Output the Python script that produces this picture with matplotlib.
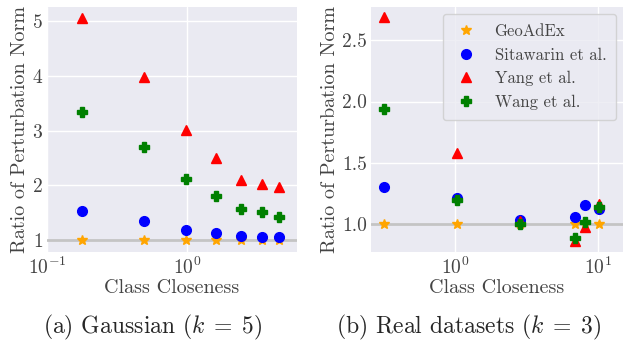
import numpy as np
import matplotlib
matplotlib.use("Agg")
from matplotlib import pyplot as plt

plt.style.use("seaborn-v0_8-darkgrid")
plt.rcParams["font.family"] = "serif"
plt.rcParams["font.serif"] = ["cmr10", "DejaVu Serif"]
plt.rcParams["mathtext.fontset"] = "cm"
plt.rcParams["axes.formatter.use_mathtext"] = True
plt.rcParams["axes.unicode_minus"] = False

methods = ["GeoAdEx", "Sitawarin et al.", "Yang et al.", "Wang et al."]
colors = ["orange", "blue", "red", "green"]
markers = ["*", "o", "^", "P"]

# (a) Gaussian, k = 5
gauss_x = [0.179, 0.495, 0.98, 1.62, 2.44, 3.42, 4.57]
gauss_geo = [1.0, 1.0, 1.0, 1.0, 1.0, 1.0, 1.0]
gauss_sita = [1.54, 1.36, 1.19, 1.14, 1.085, 1.055, 1.055]
gauss_yang = [5.05, 3.98, 3.01, 2.50, 2.10, 2.03, 1.98]
gauss_wang = [3.34, 2.70, 2.12, 1.80, 1.57, 1.52, 1.42]

# (b) Real datasets, k = 3
real_x = [0.32, 1.04, 2.84, 6.9, 8.15, 10.2]
real_geo = [1.0, 1.0, 1.0, 1.0, 1.0, 1.0]
real_sita = [1.30, 1.215, 1.033, 1.06, 1.158, 1.128]
real_yang = [2.685, 1.58, 1.03, 0.86, 0.98, 1.166]
real_wang = [1.935, 1.20, 1.005, 0.89, 1.02, 1.14]

fig = plt.figure(figsize=(6.23, 3.43), dpi=100)
ax1 = fig.add_axes([47 / 623, 91 / 343, 250 / 623, 245 / 343])
ax2 = fig.add_axes([371 / 623, 91 / 343, 252 / 623, 245 / 343])

panels = [
    (ax1, gauss_x, [gauss_geo, gauss_sita, gauss_yang, gauss_wang]),
    (ax2, real_x, [real_geo, real_sita, real_yang, real_wang]),
]

for ax, xs, series in panels:
    ax.axhline(1.0, color="#c4c4c4", lw=2.0, zorder=1)
    for name, col, mk, ys in zip(methods, colors, markers, series):
        ax.plot(xs, ys, linestyle="none", marker=mk, color=col,
                markersize=7, label=name, zorder=3)
    ax.set_xscale("log")
    ax.grid(True, which="major", color="white", lw=1.0)
    ax.grid(False, which="minor")
    ax.tick_params(axis="both", which="both", labelsize=14, colors="#444444",
                   length=0, pad=3)
    ax.set_xlabel("Class Closeness", fontsize=14.5, color="#444444", labelpad=1)
    ax.set_ylabel("Ratio of Perturbation Norm", fontsize=14.5, color="#444444",
                  labelpad=2)

ax1.set_xlim(0.1, 6.1)
ax1.set_ylim(0.787, 5.255)
ax1.set_yticks([1, 2, 3, 4, 5])

ax2.set_xlim(0.258, 15.0)
ax2.set_ylim(0.774, 2.77)
ax2.set_yticks([1.0, 1.5, 2.0, 2.5])
ax2.set_yticklabels(["1.0", "1.5", "2.0", "2.5"])

leg = ax2.legend(loc="upper right", fontsize=12, frameon=True, borderpad=0.6,
                 labelspacing=0.5, handlelength=1.6, handletextpad=0.9,
                 borderaxespad=0.4)
leg.get_frame().set_facecolor("#EAEAF2")
leg.get_frame().set_edgecolor("#cccccc")
for t in leg.get_texts():
    t.set_color("#444444")

fig.text(153 / 623, 1 - 327 / 343, r"(a) Gaussian ($k\;=\;5$)", fontsize=17,
         ha="center", va="center")
fig.text(469 / 623, 1 - 327 / 343, r"(b) Real datasets ($k\;=\;3$)", fontsize=17,
         ha="center", va="center")

fig.savefig("out.png", dpi=100)
